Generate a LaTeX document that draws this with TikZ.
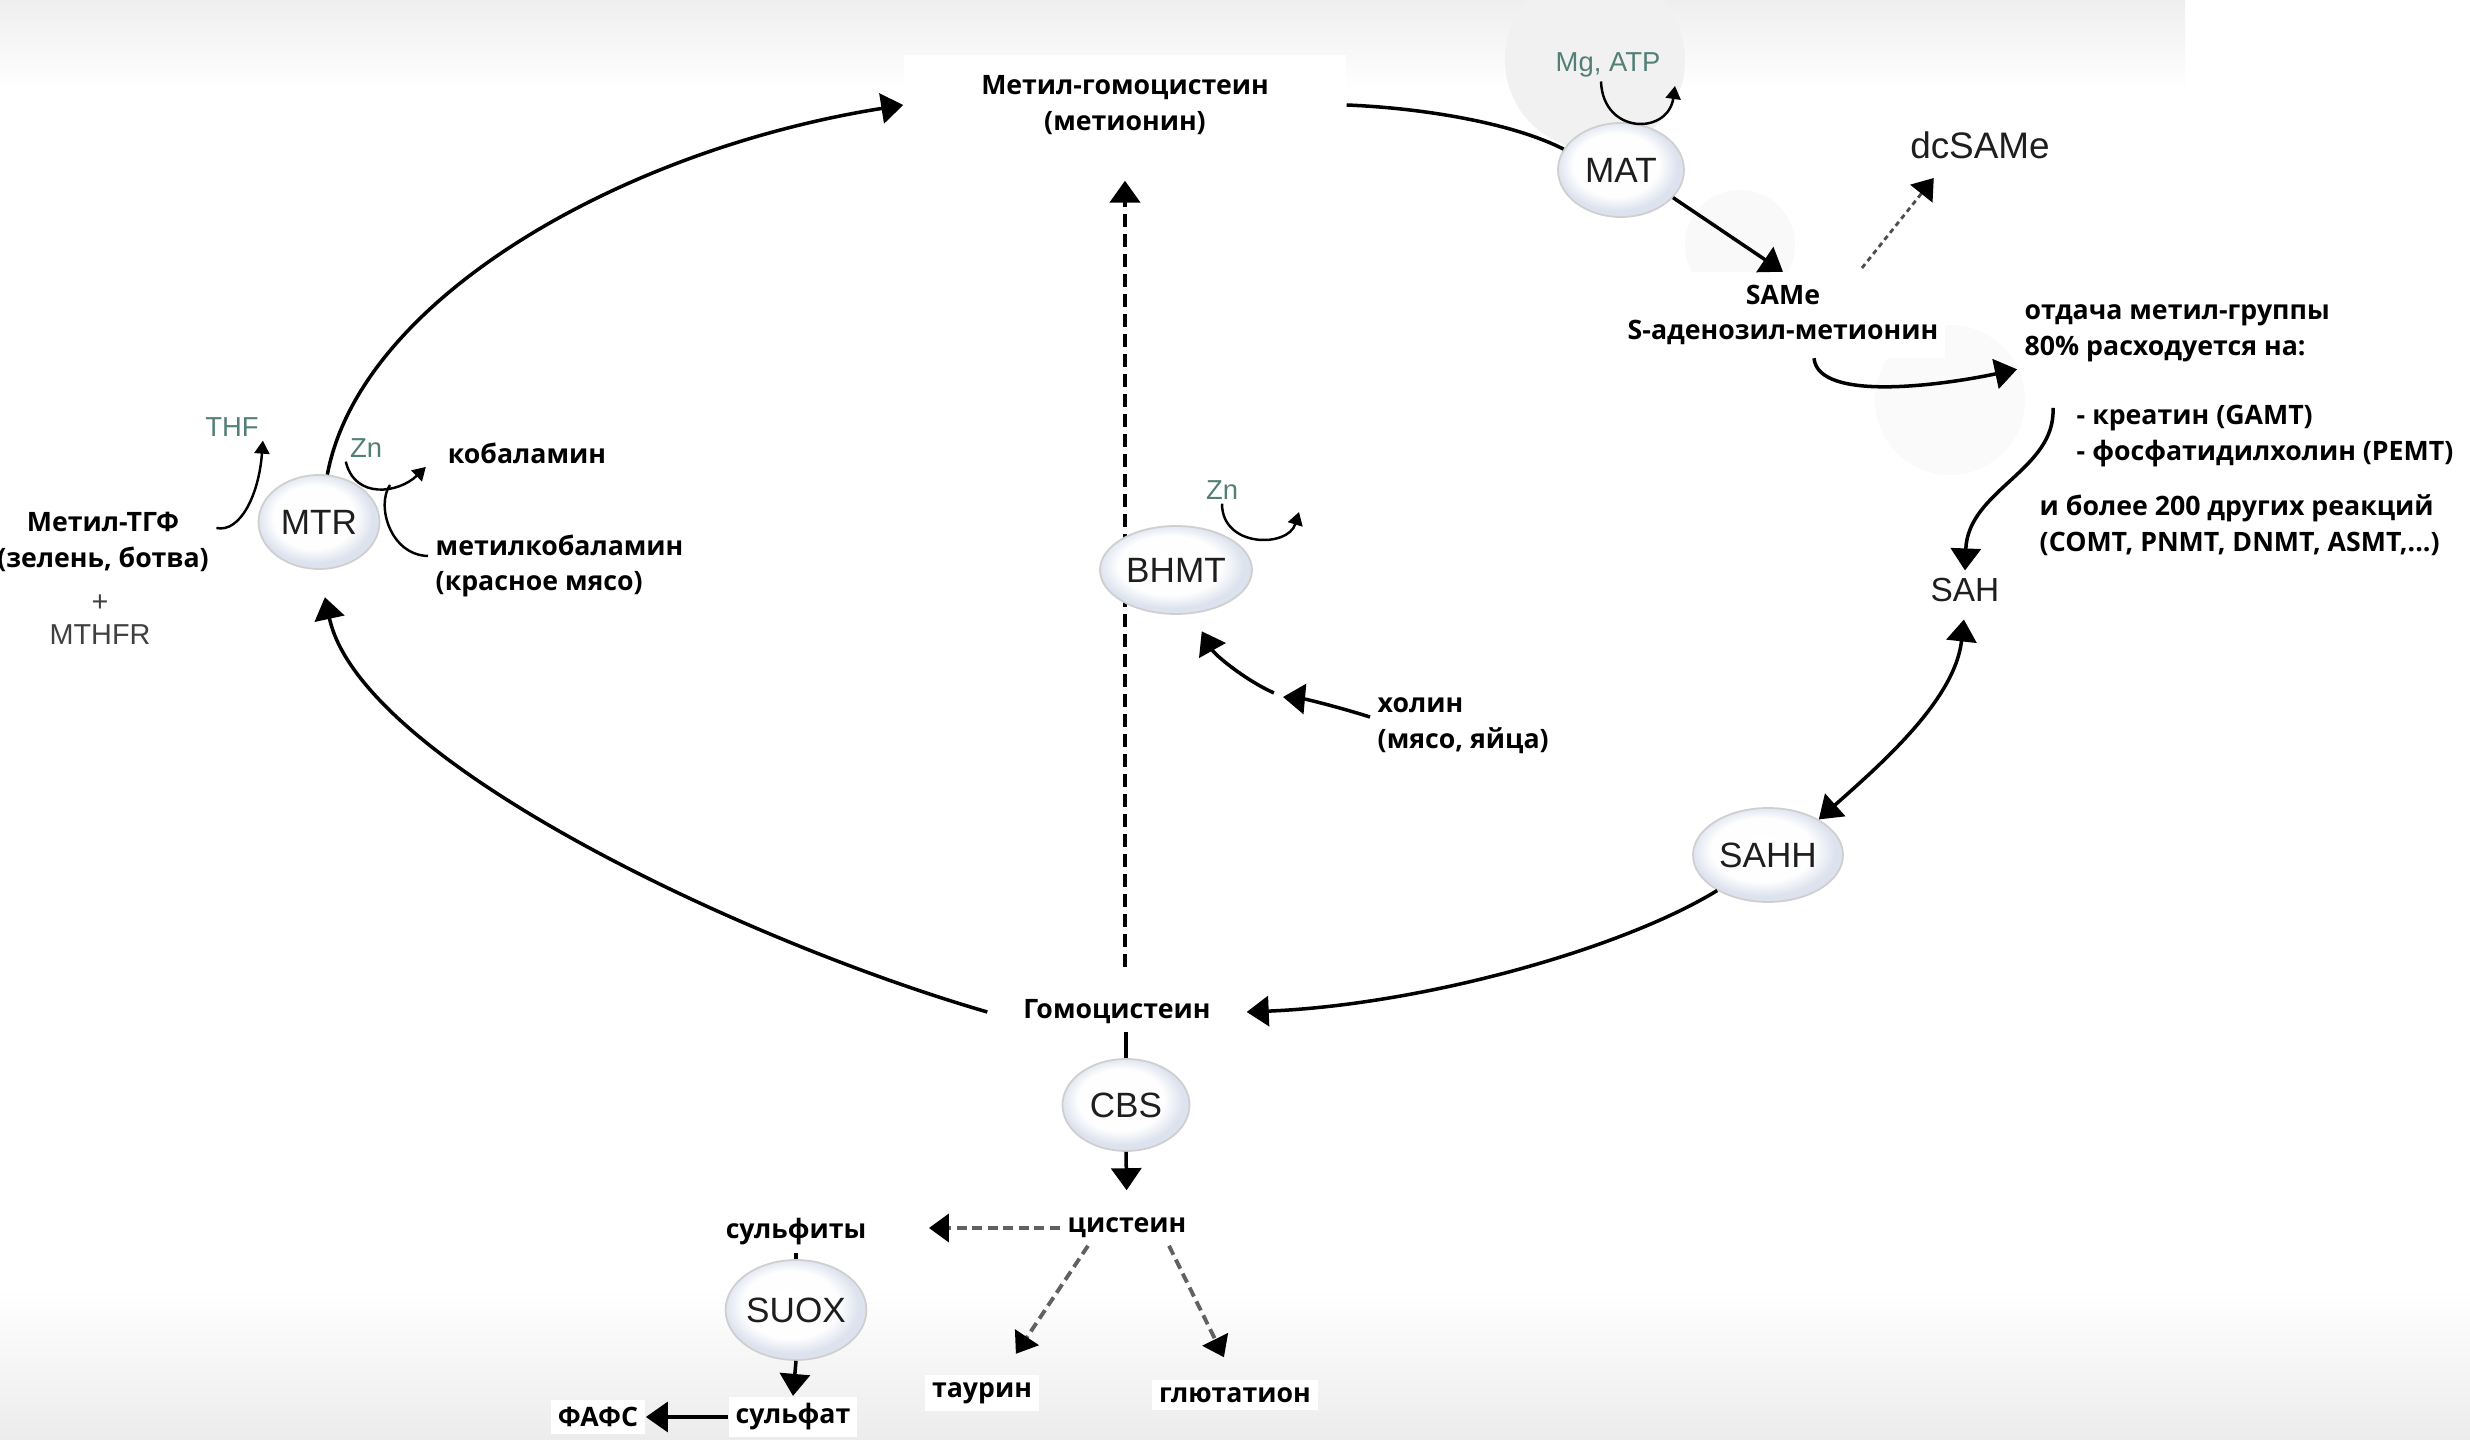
\documentclass[tikz,border=0pt]{standalone}
\usepackage{fontspec}
\usepackage{tikz}
\usetikzlibrary{
    calc,
    arrows.meta,
    shapes.geometric
}
\newfontfamily\labelfont{Open Sans}
\newfontfamily\enzymefont{Liberation Sans}
\definecolor{cofactor}{RGB}{82,128,118}
\definecolor{enzymetext}{RGB}{30,30,30}
\definecolor{enzymeedge}{RGB}{220,226,238}
\pgfdeclareradialshading{enzymeball}{\pgfpoint{-3bp}{4bp}}{%
    color(0bp)=(white); color(17bp)=(white!96!enzymeedge); color(24bp)=(enzymeedge); color(50bp)=(enzymeedge)}

\begin{document}
\begin{tikzpicture}[
        x=0.1mm, y=-0.1mm,
        metabolite/.style={font=\labelfont\bfseries\fontsize{7.6}{10.2}\selectfont, fill=white, inner sep=2pt, align=center},
        enzyme/.style={ellipse, draw=gray!38, line width=0.5pt, shading=enzymeball, text=enzymetext, font=\enzymefont\fontsize{10}{12}\selectfont, inner sep=0pt},
        plain label/.style={text=enzymetext, font=\enzymefont\fontsize{9.5}{11}\selectfont, inner sep=2pt},
        cofactor label/.style={text=cofactor, font=\enzymefont\fontsize{7.8}{9}\selectfont, inner sep=1pt},
        main flow/.style={line width=1pt, -{Triangle[length=2.2mm, width=3mm]}},
        side flow/.style={line width=1.1pt, draw=black!62, dash pattern=on 1mm off 0.55mm, -{Triangle[length=2mm, width=2.8mm, color=black]}},
        cofactor flow/.style={line width=0.7pt, -{Triangle[length=1.3mm, width=1.5mm]}}
    ]
    \useasboundingbox (0,0) rectangle (2470,1440);
    \fill[white] (0,0) rectangle (2470,1440);
    \shade[top color=gray!13, bottom color=white] (0,0) rectangle (2185,90);
    \shade[top color=white, bottom color=gray!15] (0,1290) rectangle (2470,1440);
    \foreach \c/\r/\g in {{1595,60}/9mm/11, {1740,245}/5.5mm/5, {1950,400}/7.5mm/4}
        \fill[gray!\g] (\c) circle[radius=\r];

    \coordinate (MgATP-out) at (1675,86);
    \coordinate (dc-from) at (1862,268);
    \coordinate (methyl-out) at (2053,408);
    \coordinate (mtr-join) at (390,485);
    \coordinate (BHMT-out) at (1299,512);
    \coordinate (holin-mid) at (1283,697);

    \node[metabolite, minimum width=44.2mm, minimum height=10mm] (metionin) at (1125,105) {Метил-гомоцистеин\\(метионин)};
    \node[metabolite, inner ysep=3.5pt] (SAMe) at (1783,315) {SAMe\\S-аденозил-метионин};
    \node[metabolite, anchor=west, align=left] (otdacha) at (2017,333) {отдача метил-группы\\80\% расходуется на:};
    \node[metabolite, anchor=west, align=left] (targets) at (2069,436) {- креатин (GAMT)\\- фосфатидилхолин (PEMT)};
    \node[metabolite, anchor=west, align=left] (others) at (2032,525) {и более 200 других реакций\\(COMT, PNMT, DNMT, ASMT,...)};
    \node[metabolite, minimum width=25.8mm] (gomocist) at (1117,1012) {Гомоцистеин};
    \node[metabolite] (cistein) at (1127,1228) {цистеин};
    \node[metabolite] (sulfity) at (796,1232) {сульфиты};
    \node[metabolite] (sulfat) at (793,1417) {сульфат};
    \node[metabolite] (FAFS) at (598,1417) {ФАФС};
    \node[metabolite] (taurin) at (982,1393) {таурин};
    \node[metabolite] (glutation) at (1235,1395) {глютатион};
    \node[metabolite, anchor=west, align=left] (holin) at (1370,726) {холин\\(мясо, яйца)};
    \node[metabolite] (kobalamin) at (527,453) {кобаламин};
    \node[metabolite, anchor=west, align=left] (metilkob) at (428,566) {метилкобаламин\\(красное мясо)};
    \node[metabolite] (metilTGF) at (103,542) {Метил-ТГФ\\(зелень, ботва)};

    \node[plain label, font=\enzymefont\fontsize{10.5}{12}\selectfont] (dcSAMe) at (1980,145) {dcSAMe};
    \node[plain label] (SAH) at (1965,590) {SAH};
    \node[plain label, text=gray!50!black, font=\enzymefont\fontsize{8.2}{9.4}\selectfont, align=center] (MTHFR) at (100,620) {+\\MTHFR};

    \node[cofactor label] (MgATP) at (1608,65) {Mg, ATP};
    \node[cofactor label] (THF) at (232,427) {THF};
    \node[cofactor label] (MTR-Zn) at (366,448) {Zn};
    \node[cofactor label] (BHMT-Zn) at (1222,490) {Zn};

    % BHMT shortcut, drawn under the enzymes
    \draw[line width=1.3pt, dash pattern=on 1.3mm off 0.7mm, -{Triangle[length=2.2mm, width=3mm]}, shorten <=2.5mm, shorten >=2.5mm]
        (metionin.south |- gomocist.north) -- (metionin.south);

    \foreach \enz/\x/\y/\w/\h in {MTR/319/522/12.1/9.4, MAT/1621/170/12.6/9.4, BHMT/1176/570/15.2/8.8,
        SAHH/1768/855/15/9.4, CBS/1126/1105/12.7/9.2, SUOX/796/1310/12.4/10}
        \node[enzyme, minimum width=\w mm, minimum height=\h mm] (\enz) at (\x,\y) {\enz};

    % methionine cycle
    \draw[main flow] (MTR.80) .. controls (360,300) and (620,150) .. (metionin.west);
    \draw[line width=1pt] (metionin.east) .. controls (1420,108) and (1510,122) .. (MAT.160);
    \draw[main flow] (MAT.-28) -- (SAMe.north);
    \draw[cofactor flow] ([xshift=-0.7mm]MgATP.south) .. controls (1603,135) and (1668,135) .. (MgATP-out);
    \draw[side flow, draw=black!70, line width=0.8pt, dash pattern=on 0.5mm off 0.4mm, shorten >=1.5mm] (dc-from) -- (dcSAMe.-150);
    \draw[main flow] ([xshift=3.1mm]SAMe.south) .. controls +(4,45) and +(-70,15) .. (otdacha.south west);
    \draw[main flow] (methyl-out) .. controls (2056,470) and (1968,490) .. (SAH.north);
    \draw[line width=1pt, {Triangle[length=2.2mm, width=3mm]}-{Triangle[length=2.2mm, width=3mm]}, shorten <=1mm]
        (SAH.south) .. controls (1955,700) and (1880,765) .. (SAHH.35);
    \draw[main flow] (SAHH.-145) .. controls (1620,950) and (1420,1005) .. (gomocist.east);
    \draw[main flow, shorten >=2.8mm] (gomocist.west) .. controls (740,940) and (360,760) .. (MTR.south);

    % MTR cofactors
    \draw[cofactor flow] ([yshift=1.4mm]metilTGF.east) .. controls (240,533) and (259,495) .. (THF.south east);
    \draw[cofactor flow, shorten >=2mm] (MTR-Zn.south west) .. controls (355,500) and (399,493) .. (kobalamin.west);
    \draw[line width=0.7pt] ([yshift=1mm]metilkob.west) .. controls (390,555) and (376,505) .. (mtr-join);

    % BHMT
    \draw[cofactor flow] (BHMT-Zn.south) .. controls (1222,548) and (1288,548) .. (BHMT-out);
    \draw[main flow] ([yshift=0.9mm]holin.west) .. controls (1335,706) and (1305,699) .. (holin-mid);
    \draw[main flow, shorten <=1mm, shorten >=2mm] (holin-mid) .. controls (1245,680) and (1215,655) .. (BHMT.-70);

    % transsulfuration
    \draw[line width=1pt] (CBS.north |- gomocist.south) -- (CBS.north);
    \draw[main flow, shorten >=2mm] (CBS.south) -- (cistein.north);
    \draw[side flow, shorten >=5.5mm] (cistein.west) -- (cistein.west -| sulfity.east);
    \draw[side flow, shorten >=2.5mm] ([xshift=-3.9mm]cistein.south) -- ([xshift=2mm]taurin.north);
    \draw[side flow, shorten >=2.5mm] ([xshift=4.2mm]cistein.south) -- (glutation.north);
    \draw[line width=1pt] (sulfity.south) -- (SUOX.north);
    \draw[main flow] (SUOX.south) -- (sulfat.north);
    \draw[main flow] (sulfat.west) -- (FAFS.east);
\end{tikzpicture}
\end{document}
